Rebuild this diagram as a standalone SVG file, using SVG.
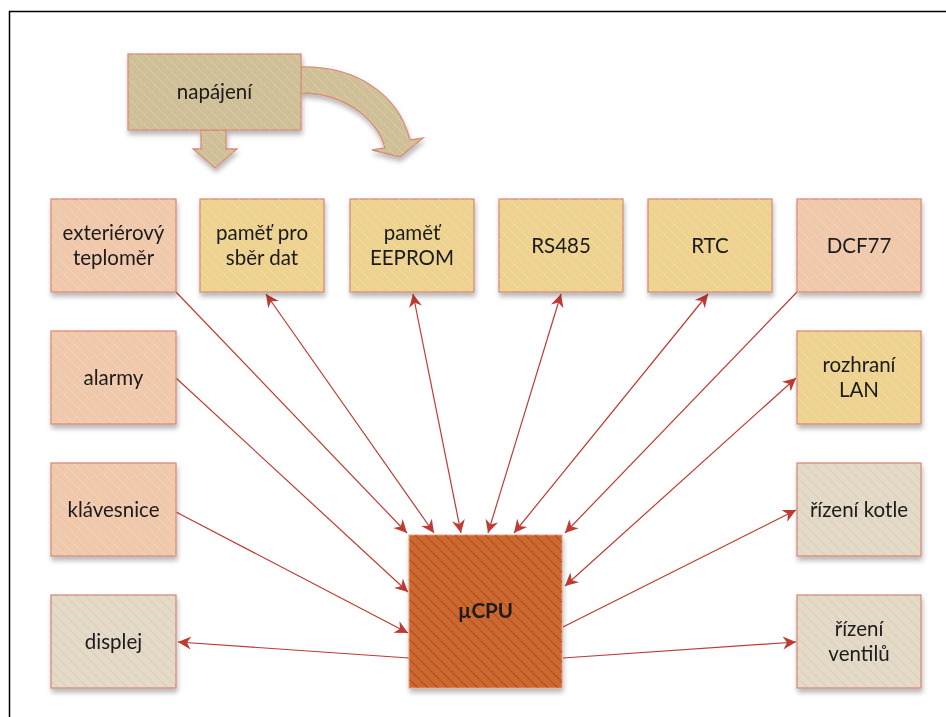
<svg xmlns="http://www.w3.org/2000/svg" width="946" height="717" viewBox="0 0 946 717">
<style>
.n{stroke:#d98c78;stroke-width:1.3}
.t{font-family:Lato,"Liberation Sans",sans-serif;font-size:20.5px;fill:#1a1a1a;text-anchor:middle}
.c{stroke:#bf3a33;stroke-width:1.2;fill:none}
</style>
<defs>
<filter id="sh" x="-10%" y="-10%" width="125%" height="130%">
<feDropShadow dx="1" dy="4" stdDeviation="2.5" flood-color="#000" flood-opacity="0.28"/>
</filter>
<pattern id="hl" width="10" height="10" patternUnits="userSpaceOnUse">
<path d="M-1,-1 L11,11 M-1,9 L1,11 M9,-1 L11,1" stroke="#ffffff" stroke-opacity="0.35" stroke-width="1" stroke-dasharray="2 1.5"/>
</pattern>
<pattern id="hd" width="10" height="10" patternUnits="userSpaceOnUse">
<path d="M-1,-1 L11,11 M-1,9 L1,11 M9,-1 L11,1" stroke="#a8322c" stroke-opacity="0.8" stroke-width="1.4" stroke-dasharray="2 1"/>
</pattern>
<marker id="ah" viewBox="-14 -8 15 16" refX="0" refY="0" markerWidth="15" markerHeight="16" markerUnits="userSpaceOnUse" orient="auto-start-reverse">
<path d="M0,0 L-13,-6.5 L-9,0 L-13,6.5 Z" fill="#bf3a33"/>
</marker>
</defs>
<rect width="946" height="717" fill="#ffffff"/>
<path d="M9.5,717 L9.5,11.5 L946,11.5" fill="none" stroke="#000" stroke-width="1.5"/>

<g id="napajeni" filter="url(#sh)">
<path d="M201,130 L226,130 L226,149 L237,149 L215,168 L193,149 L201,149 Z" fill="#cfc098" class="n"/>
<path d="M301,67 C355,66 398,93 410,140 L423,138 L400,157 L372,150 L385,148 C376,115 340,93 301,93 Z" fill="#cfc098" class="n"/>
<rect x="128" y="54" width="173" height="76" fill="#cfc098" class="n"/>
<path d="M201,130 L226,130 L226,149 L237,149 L215,168 L193,149 L201,149 Z M301,67 C355,66 398,93 410,140 L423,138 L400,157 L372,150 L385,148 C376,115 340,93 301,93 Z" fill="url(#hl)"/>
<rect x="128" y="54" width="173" height="76" fill="url(#hl)"/>
<text class="t" x="214.5" y="99">napájení</text>
</g>

<g id="connectors">
<path class="c" d="M176,292 L407,533" marker-end="url(#ah)"/>
<path class="c" d="M176,378 L408,592" marker-end="url(#ah)"/>
<path class="c" d="M176,512 L408,633" marker-end="url(#ah)"/>
<path class="c" d="M409,658 L178,642" marker-end="url(#ah)"/>
<path class="c" d="M266,294 L434,533" marker-start="url(#ah)" marker-end="url(#ah)"/>
<path class="c" d="M413,294 L461,533" marker-start="url(#ah)" marker-end="url(#ah)"/>
<path class="c" d="M561,294 L488,533" marker-start="url(#ah)" marker-end="url(#ah)"/>
<path class="c" d="M708,294 L514,533" marker-start="url(#ah)" marker-end="url(#ah)"/>
<path class="c" d="M797,292 L565,533" marker-end="url(#ah)"/>
<path class="c" d="M796,378 L565,586" marker-start="url(#ah)" marker-end="url(#ah)"/>
<path class="c" d="M563,627 L796,510" marker-end="url(#ah)"/>
<path class="c" d="M563,658 L796,642" marker-end="url(#ah)"/>
</g>

<g id="exterierovy" filter="url(#sh)"><rect x="51" y="199" width="125" height="93" fill="#f0c8ac" class="n"/><rect x="51" y="199" width="125" height="93" fill="url(#hl)"/><text class="t" x="113.5" y="240">exteriérový</text><text class="t" x="113.5" y="265">teploměr</text></g>
<g id="pamet-sber" filter="url(#sh)"><rect x="200" y="199" width="124" height="93" fill="#edd38f" class="n"/><rect x="200" y="199" width="124" height="93" fill="url(#hl)"/><text class="t" x="262" y="240">paměť pro</text><text class="t" x="262" y="265">sběr dat</text></g>
<g id="pamet-eeprom" filter="url(#sh)"><rect x="350" y="199" width="124" height="93" fill="#edd38f" class="n"/><rect x="350" y="199" width="124" height="93" fill="url(#hl)"/><text class="t" x="412" y="240">paměť</text><text class="t" x="412" y="265">EEPROM</text></g>
<g id="rs485" filter="url(#sh)"><rect x="499" y="199" width="124" height="93" fill="#edd38f" class="n"/><rect x="499" y="199" width="124" height="93" fill="url(#hl)"/><text class="t" x="561" y="253">RS485</text></g>
<g id="rtc" filter="url(#sh)"><rect x="648" y="199" width="124" height="93" fill="#edd38f" class="n"/><rect x="648" y="199" width="124" height="93" fill="url(#hl)"/><text class="t" x="710" y="253">RTC</text></g>
<g id="dcf77" filter="url(#sh)"><rect x="797" y="199" width="124" height="93" fill="#f0c8ac" class="n"/><rect x="797" y="199" width="124" height="93" fill="url(#hl)"/><text class="t" x="859" y="253">DCF77</text></g>

<g id="alarmy" filter="url(#sh)"><rect x="51" y="331" width="125" height="93" fill="#f0c8ac" class="n"/><rect x="51" y="331" width="125" height="93" fill="url(#hl)"/><text class="t" x="113.5" y="385">alarmy</text></g>
<g id="klavesnice" filter="url(#sh)"><rect x="51" y="463" width="125" height="93" fill="#f0c8ac" class="n"/><rect x="51" y="463" width="125" height="93" fill="url(#hl)"/><text class="t" x="113.5" y="517">klávesnice</text></g>
<g id="displej" filter="url(#sh)"><rect x="51" y="595" width="125" height="93" fill="#e3dac8" class="n"/><rect x="51" y="595" width="125" height="93" fill="url(#hd)" opacity="0.12"/><text class="t" x="113.5" y="649">displej</text></g>

<g id="rozhrani-lan" filter="url(#sh)"><rect x="797" y="331" width="124" height="93" fill="#edd38f" class="n"/><rect x="797" y="331" width="124" height="93" fill="url(#hl)"/><text class="t" x="859" y="372">rozhraní</text><text class="t" x="859" y="397">LAN</text></g>
<g id="rizeni-kotle" filter="url(#sh)"><rect x="797" y="463" width="124" height="93" fill="#e3dac8" class="n"/><rect x="797" y="463" width="124" height="93" fill="url(#hd)" opacity="0.12"/><text class="t" x="859" y="517">řízení kotle</text></g>
<g id="rizeni-ventilu" filter="url(#sh)"><rect x="797" y="595" width="124" height="93" fill="#e3dac8" class="n"/><rect x="797" y="595" width="124" height="93" fill="url(#hd)" opacity="0.12"/><text class="t" x="859" y="636">řízení</text><text class="t" x="859" y="661">ventilů</text></g>

<g id="ucpu" filter="url(#sh)"><rect x="409" y="535" width="153" height="153" fill="#cc6a2e" stroke="#e0a080" stroke-width="1"/><rect x="409" y="535" width="153" height="153" fill="url(#hd)"/><text class="t" x="485.5" y="618" font-weight="bold">µCPU</text></g>
</svg>
